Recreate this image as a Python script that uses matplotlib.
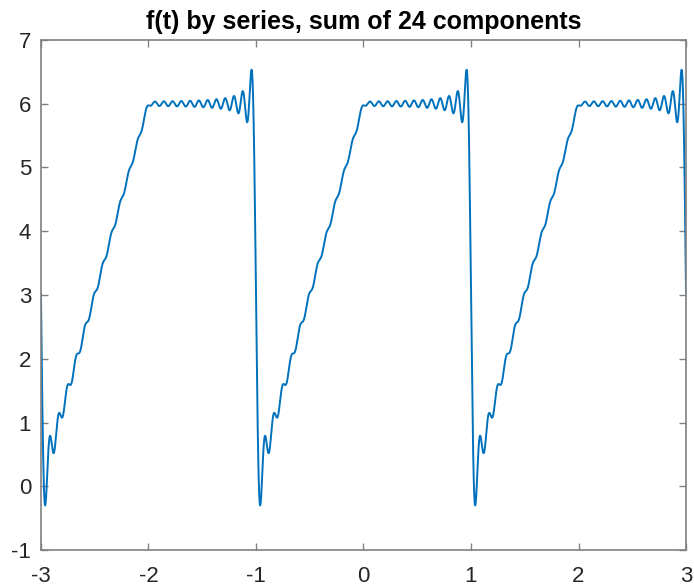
import numpy as np
import matplotlib.pyplot as plt

plt.rcParams['font.family'] = ['Liberation Sans', 'DejaVu Sans']
plt.rcParams['axes.unicode_minus'] = False

# Fourier series of the ramp/flat wave, period 2, 24 harmonics
a0 = 4.5
# cosine coefficients (odd harmonics only)
an = [1.2159, 0, 0.1351, 0, 0.0486, 0, 0.0248, 0, 0.0150, 0, 0.0100, 0,
      0.0072, 0, 0.0054, 0, 0.0042, 0, 0.0034, 0, 0.0028, 0, 0.0023, 0]
# sine coefficients
bn = [1.9099, -0.9549, 0.6366, -0.4775, 0.3820, -0.3183, 0.2728, -0.2387,
      0.2122, -0.1910, 0.1736, -0.1592, 0.1469, -0.1364, 0.1273, -0.1194,
      0.1123, -0.1061, 0.1005, -0.0955, 0.0909, -0.0868, 0.0830, -0.0796]
title = 'f(t) by series, sum of 24 components'

t = np.linspace(-3, 3, 4001)
f = np.full_like(t, a0)
for k in range(len(an)):
    n = k + 1
    f += an[k] * np.cos(n * np.pi * t) + bn[k] * np.sin(n * np.pi * t)

fig = plt.figure(figsize=(6.94, 5.88), dpi=100)
ax = fig.add_axes([0.059, 0.0646, 0.9295, 0.8674])
ax.plot(t, f, color='#0072BD', lw=1.4)
ax.set_xlim(-3, 3)
ax.set_ylim(-1, 7)
ax.set_xticks(range(-3, 4))
ax.set_yticks(range(-1, 8))
ax.set_title(title, fontsize=18, fontweight='bold', pad=8)
for s in ax.spines.values():
    s.set_color('#808080')
    s.set_linewidth(1.2)
ax.tick_params(direction='in', length=5, width=1, colors='#808080',
               labelcolor='#262626', labelsize=16, top=True, right=True)
ax.tick_params(axis='x', pad=11.5)
ax.tick_params(axis='y', pad=7)

plt.savefig('out.png', dpi=100)
